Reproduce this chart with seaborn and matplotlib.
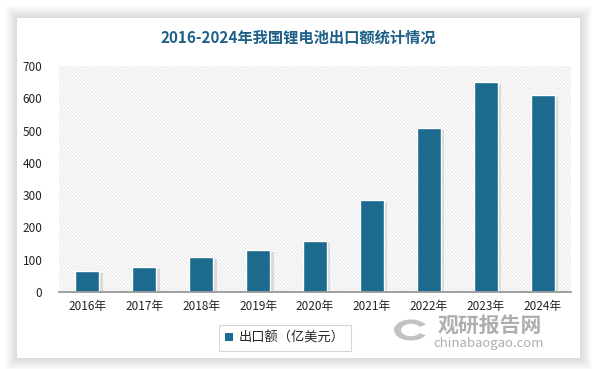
import matplotlib
matplotlib.use("Agg")
import matplotlib.pyplot as plt
import matplotlib.patches as mpatches
import matplotlib.patheffects as pe
import seaborn as sns
import pandas as pd

years = ["2016年", "2017年", "2018年", "2019年", "2020年", "2021年", "2022年", "2023年", "2024年"]
values = [65, 77, 108, 129, 158, 285, 509, 650, 611]
series_name = "出口额（亿美元）"
title = "2016-2024年我国锂电池出口额统计情况"
yticks = [0, 100, 200, 300, 400, 500, 600, 700]

sns.set_theme(style="white")
plt.rcParams['font.family'] = ['Noto Sans CJK SC', 'DejaVu Sans']
plt.rcParams['hatch.linewidth'] = 0.5

W, H = 596, 369
fig = plt.figure(figsize=(W / 100, H / 100), dpi=100, facecolor="white")

# card with soft shadow
cx0, cy0, cx1, cy1 = 17, 18, 580, 358
for i in range(12, 0, -1):
    r = mpatches.Rectangle(((cx0 - i) / W, 1 - (cy1 + i) / H), (cx1 - cx0 + 2 * i) / W,
                           (cy1 - cy0 + 2 * i) / H, transform=fig.transFigure,
                           facecolor="black", edgecolor="none", alpha=0.012, zorder=0)
    fig.patches.append(r)
card = mpatches.Rectangle((cx0 / W, 1 - cy1 / H), (cx1 - cx0) / W, (cy1 - cy0) / H,
                          transform=fig.transFigure, facecolor="white", edgecolor="none", zorder=1)
fig.patches.append(card)

ax = fig.add_axes([59 / W, 1 - 292 / H, (571 - 59) / W, (292 - 66) / H])
ax.set_facecolor("none")
ax.set_zorder(2)

bg = mpatches.Rectangle((0, 0), 1, 1, transform=ax.transAxes, facecolor="white",
                        edgecolor="#dcdcdc", linewidth=0, hatch="\\" * 10, zorder=0)
ax.add_patch(bg)

df = pd.DataFrame({"year": years, "value": values, "series": series_name})
bar_color = "#1c6a8e"
sns.barplot(data=df, x="year", y="value", hue="series", palette=[bar_color],
            saturation=1, width=0.42, dodge=False, ax=ax, legend=False, zorder=3)
for p in ax.patches:
    if p is bg:
        continue
    p.set_edgecolor("white")
    p.set_linewidth(1.0)
    p.set_path_effects([pe.SimplePatchShadow(offset=(2.5, -1.5), shadow_rgbFace="#999999", alpha=0.3),
                        pe.Normal()])

ax.set_ylim(0, 700)
ax.set_xlim(-0.5, len(years) - 0.5)
ax.set_yticks(yticks)
ax.set_yticklabels([str(v) for v in yticks])
ax.set_xlabel("")
ax.set_ylabel("")
ax.tick_params(axis="both", length=0, labelsize=8.5, colors="#222222")
ax.tick_params(axis="y", pad=12)
ax.tick_params(axis="x", pad=6)
for s in ["top", "right", "left"]:
    ax.spines[s].set_visible(False)
ax.spines["bottom"].set_color("#999999")
ax.spines["bottom"].set_linewidth(1.3)
ax.spines["bottom"].set_zorder(5)

fig.text(0.5, 1 - 38 / H, title, ha="center", va="center", fontsize=11,
         fontweight="bold", color="#1f6088", zorder=5)

handle = mpatches.Patch(facecolor=bar_color, edgecolor="none", label=series_name)
leg = fig.legend(handles=[handle], loc="center", bbox_to_anchor=(285 / W, 1 - 338 / H),
                 fontsize=9.5, frameon=True, fancybox=False, handlelength=0.6,
                 handleheight=0.6, handletextpad=0.4, borderpad=0.45)
leg.get_frame().set_edgecolor("#cccccc")
leg.get_frame().set_linewidth(0.8)
leg.set_zorder(6)

# watermark
fig.text(490 / W, 1 - 325 / H, "观研报告网", ha="center", va="center", fontsize=15,
         fontweight="bold", color="#9a9a9a", alpha=0.8, zorder=6)
fig.text(489 / W, 1 - 344 / H, "chinabaogao.com", ha="center", va="center", fontsize=9.5,
         color="#9a9a9a", alpha=0.8, zorder=6)
logo = mpatches.Wedge((411 / W, 1 - 330 / H), 17 / W, 30, 330, width=7 / W,
                      transform=fig.transFigure, facecolor="#a8a8a8", edgecolor="none",
                      alpha=0.7, zorder=6)
fig.patches.append(logo)

fig.savefig("out.png", dpi=100, facecolor="white")
